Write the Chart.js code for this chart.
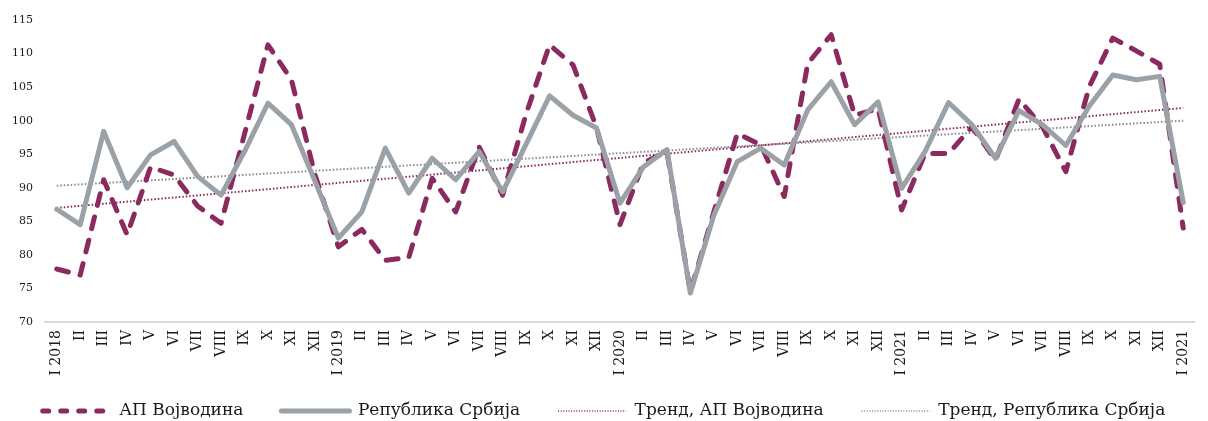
<!DOCTYPE html>
<html>
<head>
<meta charset="utf-8">
<script src="https://cdn.jsdelivr.net/npm/chart.js@4"></script>
<style>
  html, body { margin: 0; padding: 0; background: #fff; }
  #wrap { width: 1208px; height: 421px; position: relative; }
</style>
</head>
<body>
<div id="wrap"><canvas id="lineChart"></canvas></div>
<script>
// Месеци (категорије на x оси)
const months = [
    'I 2018', 'II', 'III', 'IV', 'V', 'VI', 'VII', 'VIII', 'IX', 'X', 'XI', 'XII',
    'I 2019', 'II', 'III', 'IV', 'V', 'VI', 'VII', 'VIII', 'IX', 'X', 'XI', 'XII',
    'I 2020', 'II', 'III', 'IV', 'V', 'VI', 'VII', 'VIII', 'IX', 'X', 'XI', 'XII',
    'I 2021', 'II', 'III', 'IV', 'V', 'VI', 'VII', 'VIII', 'IX', 'X', 'XI', 'XII',
    'I 2021'
];

const vojvodina = [
    77.9, 77.0, 91.2, 83.0, 93.1, 91.9, 87.3, 84.7, 98.0, 111.3, 106.1, 92.0,
    81.2, 83.8, 79.2, 79.6, 91.4, 86.4, 96.1, 88.9, 101.0, 111.3, 108.3, 99.0,
    84.5, 93.7, 95.4, 74.5, 86.4, 98.1, 96.4, 88.7, 108.5, 112.8, 100.8, 101.8,
    86.7, 95.1, 95.1, 99.1, 94.1, 103.2, 99.1, 92.4, 105.1, 112.3, 110.4, 108.4,
    84.0
];

const srbija = [
    86.8, 84.5, 98.4, 90.0, 94.9, 96.9, 91.7, 88.9, 95.4, 102.6, 99.4, 91.0,
    82.5, 86.4, 95.9, 89.2, 94.4, 91.2, 95.4, 89.4, 96.5, 103.7, 100.8, 98.9,
    87.7, 93.1, 95.7, 74.3, 85.9, 93.9, 95.9, 93.4, 101.6, 105.8, 99.4, 102.8,
    89.9, 95.4, 102.7, 99.4, 94.4, 101.5, 99.4, 96.3, 102.2, 106.8, 106.1, 106.6,
    87.8
];

// Тренд: само почетна и крајња вредност, линија се повлачи између њих
const trendVojvodina = [87.0].concat(new Array(47).fill(null), [101.9]);
const trendSrbija = [90.3].concat(new Array(47).fill(null), [100.0]);

const yTicks = [70, 75, 80, 85, 90, 95, 100, 105, 110, 115];

const MAROON = '#8b2a5e';
const GREY = '#9aa1a7';
const FONT = "'DejaVu Serif', serif";
const LEGEND_FONT = 17;
const LEGEND_GAP = 38;
const LEGEND_TEXT_Y = 411; // средина текста легенде

// Легенда има исти размак хоризонтално и вертикално, па је ручно померамо навише
const legendNudge = {
    id: 'legendNudge',
    afterLayout(chart) {
        const lg = chart.legend;
        if (!lg) return;
        lg.top = LEGEND_TEXT_Y - LEGEND_GAP - LEGEND_FONT / 2;
        lg.bottom = chart.height;
    }
};

function initializeChart() {
    const canvas = document.getElementById('lineChart');
    if (!canvas) return;

    new Chart(canvas.getContext('2d'), {
        type: 'line',
        data: {
            labels: months,
            datasets: [
                {
                    label: 'АП Војводина',
                    data: vojvodina,
                    borderColor: MAROON,
                    backgroundColor: MAROON,
                    borderWidth: 5,
                    borderDash: [12, 12],
                    borderCapStyle: 'round',
                    borderJoinStyle: 'round',
                    pointRadius: 0,
                    order: 1,
                    legendDash: [6, 12]
                },
                {
                    label: 'Република Србија',
                    data: srbija,
                    borderColor: GREY,
                    backgroundColor: GREY,
                    borderWidth: 5,
                    borderCapStyle: 'round',
                    borderJoinStyle: 'round',
                    pointRadius: 0,
                    order: 0
                },
                {
                    label: 'Тренд, АП Војводина',
                    data: trendVojvodina,
                    borderColor: MAROON,
                    backgroundColor: MAROON,
                    borderWidth: 2,
                    borderDash: [1.5, 2],
                    pointRadius: 0,
                    spanGaps: true,
                    order: 2,
                    legendDash: [1, 1.6],
                    legendWidth: 1.5
                },
                {
                    label: 'Тренд, Република Србија',
                    data: trendSrbija,
                    borderColor: '#8a8a8a',
                    backgroundColor: '#8a8a8a',
                    borderWidth: 2,
                    borderDash: [1.5, 2],
                    pointRadius: 0,
                    spanGaps: true,
                    order: 3,
                    legendDash: [1, 1.6],
                    legendWidth: 1.5
                }
            ]
        },
        options: {
            responsive: true,
            maintainAspectRatio: false,
            animation: false,
            layout: { padding: { top: 20, left: 0, right: 0, bottom: 0 } },
            plugins: {
                tooltip: { enabled: false },
                legend: {
                    position: 'bottom',
                    maxHeight: 36,
                    labels: {
                        usePointStyle: true,
                        pointStyle: 'line',
                        pointStyleWidth: 68,
                        padding: LEGEND_GAP,
                        color: '#1a1a1a',
                        font: { family: FONT, size: LEGEND_FONT },
                        sort: (a, b) => a.datasetIndex - b.datasetIndex,
                        generateLabels: (chart) => {
                            const items = Chart.defaults.plugins.legend.labels.generateLabels(chart);
                            items.forEach((item) => {
                                const ds = chart.data.datasets[item.datasetIndex];
                                item.lineDash = ds.legendDash || ds.borderDash || [];
                                item.lineCap = ds.borderCapStyle || 'butt';
                                item.lineWidth = ds.legendWidth || ds.borderWidth;
                                item.strokeStyle = ds.borderColor;
                            });
                            return items;
                        }
                    }
                }
            },
            scales: {
                x: {
                    offset: true,
                    grid: { display: false, drawTicks: false },
                    border: { display: true, color: '#d9d9d9', width: 2 },
                    ticks: {
                        autoSkip: false,
                        maxRotation: 90,
                        minRotation: 90,
                        padding: 8,
                        color: '#1a1a1a',
                        font: { family: FONT, size: 14 }
                    },
                    afterFit: (scale) => { scale.height = 63; }
                },
                y: {
                    min: 70,
                    max: 115,
                    grid: { display: false, drawTicks: false },
                    border: { display: false },
                    afterBuildTicks: (scale) => {
                        scale.ticks = yTicks.map((v) => ({ value: v }));
                    },
                    ticks: {
                        padding: 12,
                        color: '#1a1a1a',
                        font: { family: FONT, size: 11 }
                    },
                    afterFit: (scale) => { scale.width = 45; }
                }
            }
        },
        plugins: [legendNudge]
    });
}

document.addEventListener('DOMContentLoaded', initializeChart);
</script>
</body>
</html>
